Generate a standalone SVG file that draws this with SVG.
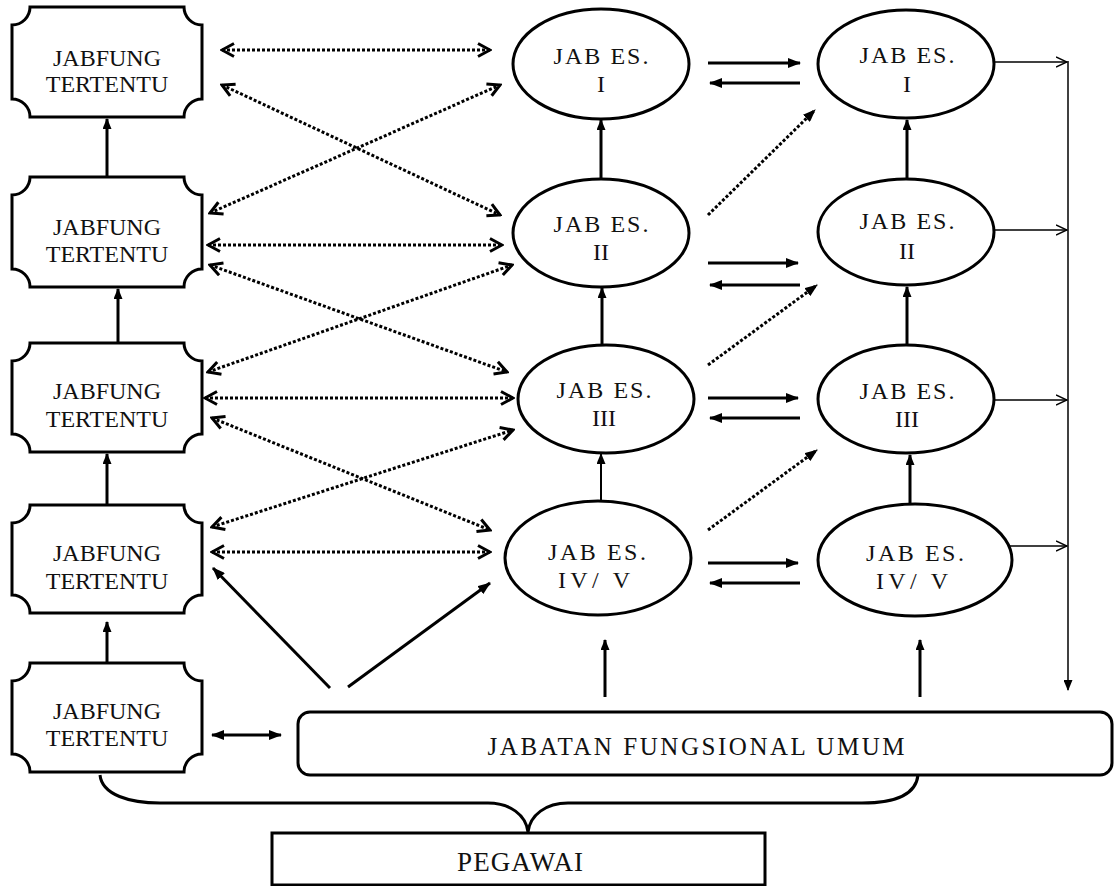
<svg xmlns="http://www.w3.org/2000/svg" width="1114" height="886" viewBox="0 0 1114 886">
<style>
.bx{fill:#fff;stroke:#000;stroke-width:3}
.el{fill:#fff;stroke:#000;stroke-width:3}
text{font-family:'Liberation Serif','DejaVu Serif',serif;font-size:24px;fill:#111;text-anchor:middle}
.s{fill:none;stroke:#000;stroke-width:3}
.s2{fill:none;stroke:#000;stroke-width:2}
.th{fill:none;stroke:#000;stroke-width:1.5}
.d{fill:none;stroke:#000;stroke-width:3;stroke-dasharray:3 2}
</style>
<defs>
<marker id="fa" markerUnits="userSpaceOnUse" viewBox="0 0 13 10" markerWidth="13" markerHeight="10" refX="12" refY="5" orient="auto-start-reverse"><path d="M0,0 L13,5 L0,10 Z" fill="#000"/></marker>
<marker id="fs" markerUnits="userSpaceOnUse" viewBox="0 0 11 9" markerWidth="11" markerHeight="9" refX="10" refY="4.5" orient="auto-start-reverse"><path d="M0,0 L11,4.5 L0,9 Z" fill="#000"/></marker>
<marker id="ch" markerUnits="userSpaceOnUse" viewBox="0 0 16 16" markerWidth="16" markerHeight="16" refX="14" refY="8" orient="auto-start-reverse"><path d="M2,1.5 L14,8 L2,14.5" fill="none" stroke="#000" stroke-width="3"/></marker>
<marker id="op" markerUnits="userSpaceOnUse" viewBox="0 0 12 12" markerWidth="12" markerHeight="12" refX="11" refY="6" orient="auto"><path d="M0,1 L11,6 L0,11" fill="none" stroke="#000" stroke-width="1.5"/></marker>
</defs>

<g id="connectors">
<line class="s" x1="107" y1="177" x2="107" y2="119" marker-end="url(#fs)"/>
<line class="s" x1="118" y1="343" x2="118" y2="289" marker-end="url(#fs)"/>
<line class="s" x1="107" y1="505" x2="107" y2="454" marker-end="url(#fs)"/>
<line class="s" x1="107" y1="663" x2="107" y2="622" marker-end="url(#fs)"/>
<line class="s" x1="601" y1="179" x2="601" y2="120" marker-end="url(#fs)"/>
<line class="s" x1="602" y1="345" x2="602" y2="288" marker-end="url(#fs)"/>
<line class="s2" x1="601" y1="502" x2="601" y2="454" marker-end="url(#fs)"/>
<line class="s" x1="605" y1="697" x2="605" y2="640" marker-end="url(#fs)"/>
<line class="s" x1="907" y1="179" x2="907" y2="120" marker-end="url(#fs)"/>
<line class="s" x1="907" y1="345" x2="907" y2="287" marker-end="url(#fs)"/>
<line class="s" x1="910" y1="504" x2="910" y2="455" marker-end="url(#fs)"/>
<line class="s" x1="920" y1="697" x2="920" y2="640" marker-end="url(#fs)"/>
<line class="s" x1="708" y1="63" x2="800" y2="63" marker-end="url(#fa)"/>
<line class="s" x1="800" y1="83" x2="710" y2="83" marker-end="url(#fa)"/>
<line class="s" x1="708" y1="263" x2="798" y2="263" marker-end="url(#fa)"/>
<line class="s" x1="800" y1="285" x2="710" y2="285" marker-end="url(#fa)"/>
<line class="s" x1="708" y1="398" x2="798" y2="398" marker-end="url(#fa)"/>
<line class="s" x1="800" y1="418" x2="710" y2="418" marker-end="url(#fa)"/>
<line class="s" x1="708" y1="563" x2="798" y2="563" marker-end="url(#fa)"/>
<line class="s" x1="800" y1="583" x2="710" y2="583" marker-end="url(#fa)"/>
<line class="d" x1="708" y1="215" x2="815" y2="110" marker-end="url(#fa)"/>
<line class="d" x1="708" y1="365" x2="817" y2="285" marker-end="url(#fa)"/>
<line class="d" x1="708" y1="530" x2="817" y2="450" marker-end="url(#fa)"/>
<line class="d" x1="222" y1="50" x2="490" y2="50" marker-start="url(#ch)" marker-end="url(#ch)"/>
<line class="d" x1="222" y1="85" x2="500" y2="215" marker-start="url(#ch)" marker-end="url(#ch)"/>
<line class="d" x1="210" y1="213" x2="500" y2="85" marker-start="url(#ch)" marker-end="url(#ch)"/>
<line class="d" x1="208" y1="245" x2="502" y2="245" marker-start="url(#ch)" marker-end="url(#ch)"/>
<line class="d" x1="210" y1="265" x2="507" y2="372" marker-start="url(#ch)" marker-end="url(#ch)"/>
<line class="d" x1="208" y1="372" x2="512" y2="265" marker-start="url(#ch)" marker-end="url(#ch)"/>
<line class="d" x1="205" y1="398" x2="513" y2="398" marker-start="url(#ch)" marker-end="url(#ch)"/>
<line class="d" x1="212" y1="418" x2="490" y2="530" marker-start="url(#ch)" marker-end="url(#ch)"/>
<line class="d" x1="212" y1="527" x2="513" y2="430" marker-start="url(#ch)" marker-end="url(#ch)"/>
<line class="d" x1="212" y1="552" x2="490" y2="552" marker-start="url(#ch)" marker-end="url(#ch)"/>
<line class="s" x1="330" y1="688" x2="213" y2="568" marker-end="url(#fa)"/>
<line class="s" x1="348" y1="687" x2="490" y2="583" marker-end="url(#fa)"/>
<line class="s" x1="212" y1="735" x2="281" y2="735" marker-start="url(#fa)" marker-end="url(#fa)"/>
<line class="th" x1="994" y1="62" x2="1067" y2="62" marker-end="url(#op)"/>
<line class="th" x1="994" y1="230" x2="1067" y2="230" marker-end="url(#op)"/>
<line class="th" x1="994" y1="400" x2="1067" y2="400" marker-end="url(#op)"/>
<line class="th" x1="1010" y1="546" x2="1067" y2="546" marker-end="url(#op)"/>
<line class="th" x1="1068" y1="61" x2="1068" y2="690" marker-end="url(#fs)"/>
<path class="s" d="M100,775 C102,795 130,803 160,803 L488,803 C510,803 526,815 528,832 C530,815 546,803 568,803 L862,803 C895,803 916,795 918,775"/>
</g>

<g id="box1"><path class="bx" d="M30,7 H184 A18,18 0 0 0 202,25 V99 A18,18 0 0 0 184,117 H30 A18,18 0 0 0 12,99 V25 A18,18 0 0 0 30,7 Z"/><text x="107" y="66">JABFUNG</text><text x="107" y="92">TERTENTU</text></g>
<g id="box2"><path class="bx" d="M30,177 H184 A18,18 0 0 0 202,195 V269 A18,18 0 0 0 184,287 H30 A18,18 0 0 0 12,269 V195 A18,18 0 0 0 30,177 Z"/><text x="107" y="235">JABFUNG</text><text x="107" y="262">TERTENTU</text></g>
<g id="box3"><path class="bx" d="M30,343 H184 A18,18 0 0 0 202,361 V434 A18,18 0 0 0 184,452 H30 A18,18 0 0 0 12,434 V361 A18,18 0 0 0 30,343 Z"/><text x="107" y="399">JABFUNG</text><text x="107" y="427">TERTENTU</text></g>
<g id="box4"><path class="bx" d="M30,505 H184 A18,18 0 0 0 202,523 V595 A18,18 0 0 0 184,613 H30 A18,18 0 0 0 12,595 V523 A18,18 0 0 0 30,505 Z"/><text x="107" y="561">JABFUNG</text><text x="107" y="589">TERTENTU</text></g>
<g id="box5"><path class="bx" d="M30,663 H184 A18,18 0 0 0 202,681 V754 A18,18 0 0 0 184,772 H30 A18,18 0 0 0 12,754 V681 A18,18 0 0 0 30,663 Z"/><text x="107" y="719">JABFUNG</text><text x="107" y="746">TERTENTU</text></g>

<g id="m1"><ellipse class="el" cx="601" cy="64" rx="88" ry="55"/><text x="601" y="64" textLength="95" lengthAdjust="spacing">JAB ES.</text><text x="601" y="92">I</text></g>
<g id="m2"><ellipse class="el" cx="601" cy="233" rx="88" ry="54"/><text x="601" y="232" textLength="95" lengthAdjust="spacing">JAB ES.</text><text x="601" y="260">II</text></g>
<g id="m3"><ellipse class="el" cx="606" cy="399" rx="88" ry="54"/><text x="604" y="398" textLength="95" lengthAdjust="spacing">JAB ES.</text><text x="604" y="426">III</text></g>
<g id="m4"><ellipse class="el" cx="598" cy="558" rx="93" ry="57"/><text x="597" y="560" textLength="98" lengthAdjust="spacing">JAB ES.</text><text x="594" y="588" textLength="72" lengthAdjust="spacing">IV/ V</text></g>

<g id="r1"><ellipse class="el" cx="906" cy="64" rx="88" ry="54"/><text x="907" y="63" textLength="95" lengthAdjust="spacing">JAB ES.</text><text x="907" y="92">I</text></g>
<g id="r2"><ellipse class="el" cx="906" cy="232" rx="88" ry="53"/><text x="907" y="229" textLength="95" lengthAdjust="spacing">JAB ES.</text><text x="907" y="259">II</text></g>
<g id="r3"><ellipse class="el" cx="906" cy="399" rx="88" ry="54"/><text x="907" y="399" textLength="95" lengthAdjust="spacing">JAB ES.</text><text x="907" y="427">III</text></g>
<g id="r4"><ellipse class="el" cx="915" cy="560" rx="97" ry="56"/><text x="915" y="561" textLength="98" lengthAdjust="spacing">JAB ES.</text><text x="912" y="589" textLength="72" lengthAdjust="spacing">IV/ V</text></g>

<g id="jfu"><rect class="bx" x="298" y="712" width="814" height="63" rx="12" ry="12"/><text x="696" y="755" textLength="417" lengthAdjust="spacing" style="font-size:25px">JABATAN FUNGSIONAL UMUM</text></g>
<g id="pegawai"><rect class="bx" x="272" y="833" width="493" height="52"/><text x="520" y="871" textLength="126" lengthAdjust="spacing" style="font-size:27px">PEGAWAI</text></g>
</svg>
